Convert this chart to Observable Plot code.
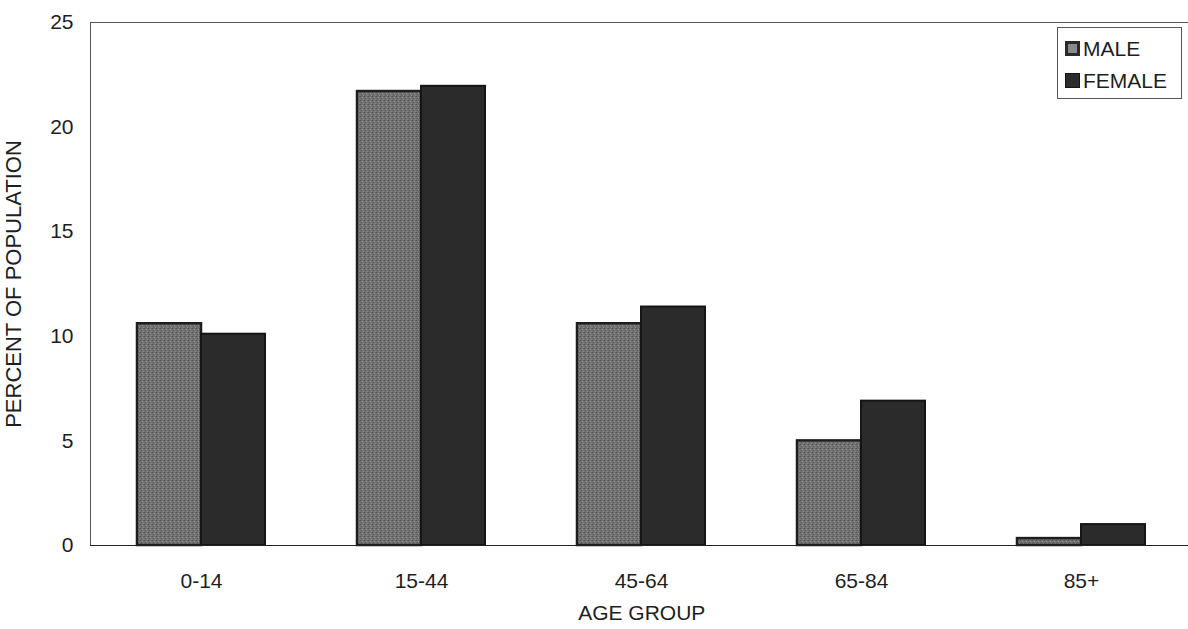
<!DOCTYPE html>
<html>
<head>
<meta charset="utf-8">
<script src="https://cdn.jsdelivr.net/npm/d3@7"></script>
<script src="https://cdn.jsdelivr.net/npm/@observablehq/plot@0.6"></script>
<style>
  html, body { margin: 0; padding: 0; background: #fff; }
  #wrap { position: relative; width: 1188px; height: 629px; overflow: hidden; font-family: "Liberation Sans", Arial, sans-serif; }
  #legend { position: absolute; left: 1057px; top: 27px; width: 125px; height: 72px; border: 1px solid #555; background: #fff; box-sizing: border-box; }
  .item { position: absolute; left: 7px; display: flex; align-items: center; font-size: 21px; color: #1e1e1e; line-height: 1; }
  .sw { width: 15px; height: 15px; box-sizing: border-box; margin-right: 3px; }
</style>
</head>
<body>
<div id="wrap"></div>
<script>
const ageGroups = ["0-14", "15-44", "45-64", "65-84", "85+"];
const male = [10.6, 21.7, 10.6, 5.0, 0.33];
const female = [10.1, 21.95, 11.4, 6.9, 1.0];
const yTicks = [0, 5, 10, 15, 20, 25];
const seriesNames = ["MALE", "FEMALE"];

const maleData = ageGroups.map((a, i) => ({age: a, value: male[i]}));
const femaleData = ageGroups.map((a, i) => ({age: a, value: female[i]}));

const femaleFill = "#2b2b2b";

const plot = Plot.plot({
  width: 1188,
  height: 629,
  marginLeft: 90,
  marginRight: -4.5,
  marginTop: 22,
  marginBottom: 84,
  style: {fontFamily: "Liberation Sans, Arial, sans-serif", fontSize: "21px", color: "#1e1e1e", background: "transparent"},
  x: {domain: ageGroups, paddingInner: 0.42, paddingOuter: 0.21, label: null, tickSize: 0, tickPadding: 28},
  y: {domain: [0, 25], ticks: yTicks, label: null, tickSize: 0, tickPadding: 17},
  marks: [
    Plot.frame({stroke: "#555", strokeWidth: 1}),
    Plot.barY(maleData, {x: "age", y: "value", fill: "url(#maleStipple)", stroke: "#1e1e1e", strokeWidth: 2.5, insetRight: 64}),
    Plot.barY(femaleData, {x: "age", y: "value", fill: femaleFill, stroke: "#151515", strokeWidth: 2, insetLeft: 64}),
    Plot.ruleY([0], {stroke: "#222", strokeWidth: 1.2}),
    Plot.text(["AGE GROUP"], {frameAnchor: "bottom", dy: 74, fontSize: 21, fill: "#1e1e1e"}),
    Plot.text(["PERCENT OF POPULATION"], {frameAnchor: "left", textAnchor: "middle", dx: -77, rotate: -90, fontSize: 22, fill: "#1e1e1e"})
  ]
});

// stipple texture for male bars
const ns = "http://www.w3.org/2000/svg";
const defs = document.createElementNS(ns, "defs");
const pat = document.createElementNS(ns, "pattern");
pat.setAttribute("id", "maleStipple");
pat.setAttribute("width", "4");
pat.setAttribute("height", "4");
pat.setAttribute("patternUnits", "userSpaceOnUse");
const cells = [
  [0, 0, 4, 4, "#727272"],
  [0, 0, 1, 1, "#525252"], [2, 1, 1, 1, "#959595"], [1, 2, 1, 1, "#5a5a5a"], [3, 3, 1, 1, "#8a8a8a"], [3, 0, 1, 1, "#626262"]
];
cells.forEach(([x, y, w, h, c]) => {
  const r = document.createElementNS(ns, "rect");
  r.setAttribute("x", x); r.setAttribute("y", y);
  r.setAttribute("width", w); r.setAttribute("height", h);
  r.setAttribute("fill", c);
  pat.appendChild(r);
});
defs.appendChild(pat);
plot.insertBefore(defs, plot.firstChild);

const wrap = document.getElementById("wrap");
wrap.appendChild(plot);

const legend = document.createElement("div");
legend.id = "legend";
const swStyles = [
  {background: "#8a8a8a", border: "3px solid #2a2a2a"},
  {background: femaleFill, border: "1px solid #151515"}
];
seriesNames.forEach((name, i) => {
  const item = document.createElement("div");
  item.className = "item";
  item.style.top = (i === 0 ? 10 : 42) + "px";
  const sw = document.createElement("div");
  sw.className = "sw";
  Object.assign(sw.style, swStyles[i]);
  const t = document.createElement("span");
  t.textContent = name;
  item.appendChild(sw);
  item.appendChild(t);
  legend.appendChild(item);
});
wrap.appendChild(legend);
</script>
</body>
</html>
